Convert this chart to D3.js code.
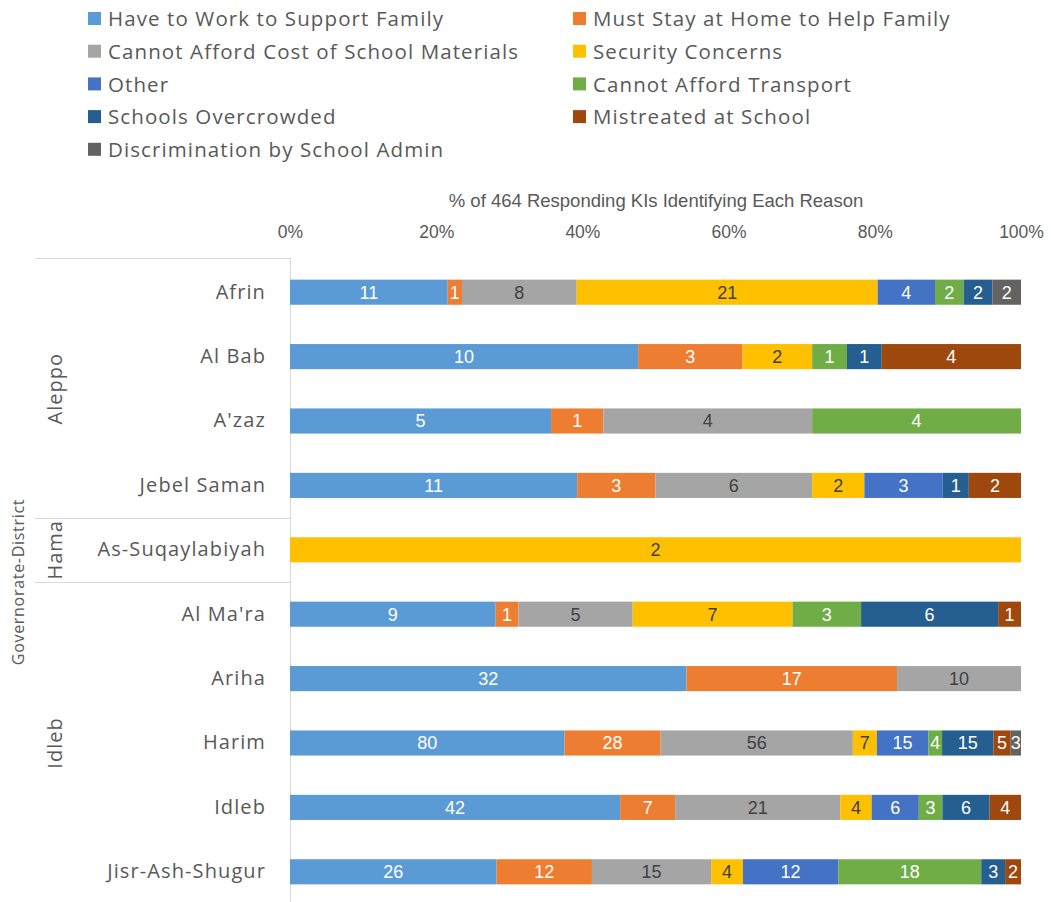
<!DOCTYPE html>
<html><head><meta charset="utf-8">
<script src="https://cdn.jsdelivr.net/npm/d3@7"></script>
<style>
html,body{margin:0;padding:0;background:#fff;}
svg{display:block;font-family:"Open Sans","Noto Sans",sans-serif;}
</style></head>
<body><svg id="c" width="1051" height="902"></svg>
<script>
const series = ["Have to Work to Support Family","Must Stay at Home to Help Family","Cannot Afford Cost of School Materials","Security Concerns","Other","Cannot Afford Transport","Schools Overcrowded","Mistreated at School","Discrimination by School Admin"];
const colors = ["#5B9BD5","#ED7D31","#A5A5A5","#FFC000","#4472C4","#70AD47","#255E91","#9E480E","#636363"];
const labelColors = ["#fff","#fff","#404040","#404040","#fff","#fff","#fff","#fff","#fff"];
const districts = ["Afrin","Al Bab","A'zaz","Jebel Saman","As-Suqaylabiyah","Al Ma'ra","Ariha","Harim","Idleb","Jisr-Ash-Shugur"];
const governorates = ["Aleppo","Aleppo","Aleppo","Aleppo","Hama","Idleb","Idleb","Idleb","Idleb","Idleb"];
// values per district, in series order
const work        = [11,10,5,11,0,9,32,80,42,26];
const home        = [1,3,1,3,0,1,17,28,7,12];
const materials   = [8,0,4,6,0,5,10,56,21,15];
const security    = [21,2,0,2,2,7,0,7,4,4];
const other       = [4,0,0,3,0,0,0,15,6,12];
const transport   = [2,1,4,0,0,3,0,4,3,18];
const overcrowded = [2,1,0,1,0,6,0,15,6,3];
const mistreated  = [0,4,0,2,0,1,0,5,4,2];
const discrim     = [2,0,0,0,0,0,0,3,0,0];
const xTicks = [0,0.2,0.4,0.6,0.8,1.0];
const axisTitle = "% of 464  Responding KIs Identifying Each Reason";
const yTitle = "Governorate-District";

const valueArrays = [work,home,materials,security,other,transport,overcrowded,mistreated,discrim];
const rows = districts.map((d,i)=>{
  const vals = valueArrays.map(a=>a[i]);
  const total = d3.sum(vals);
  let acc = 0;
  const segs = vals.map((v,k)=>{const s={k,v,x0:acc/total,x1:(acc+v)/total};acc+=v;return s;}).filter(s=>s.v>0);
  return {d,g:governorates[i],segs};
});

const svg = d3.select("#c");
const txt = "#595959";
const narrow = "'Liberation Sans Narrow','Liberation Sans',sans-serif";

// Legend
const legendItems = series.map((s,i)=>({s,i,col:i%2,row:Math.floor(i/2)}));
const lg = svg.append("g");
legendItems.forEach(it=>{
  const x = it.col===0 ? 88 : 573;
  const y = 18 + it.row*32.7;
  lg.append("rect").attr("x",x).attr("y",y-6).attr("width",13).attr("height",13).attr("fill",colors[it.i]);
  lg.append("text").attr("x",x+20).attr("y",y+1).attr("dy","0.35em").attr("fill",txt)
    .attr("font-size",20.5).attr("letter-spacing","1.1px").text(it.s);
});

const x = d3.scaleLinear().domain([0,1]).range([290,1021]);
const y = d3.scaleBand().domain(districts).range([260,904]).paddingInner(0.61).paddingOuter(0.305);

// axis title
svg.append("text").attr("x",656).attr("y",201).attr("dy","0.35em").attr("text-anchor","middle")
  .attr("fill",txt).attr("font-family",narrow).attr("font-size",18.5).text(axisTitle);

// top axis
const xa = svg.append("g").attr("transform","translate(0,240)")
  .call(d3.axisTop(x).tickValues(xTicks).tickFormat(d3.format(".0%")).tickSize(0).tickPadding(0));
xa.select(".domain").remove();
xa.selectAll("text").attr("fill",txt).attr("font-size",17.5).attr("dy","-0.1em")
  .attr("font-family",narrow);

// y axis line
svg.append("line").attr("x1",290.5).attr("x2",290.5).attr("y1",258).attr("y2",902).attr("stroke","#d9d9d9");

// group separators
const groups = d3.groups(districts.map((d,i)=>({d,g:governorates[i]})), e=>e.g);
const step = y.step();
const top0 = 258;
svg.append("line").attr("x1",35).attr("x2",290).attr("y1",top0+0.5).attr("y2",top0+0.5).attr("stroke","#d9d9d9");
groups.forEach(([g,items])=>{
  const y0 = y(items[0].d) - y.paddingInner()*step/2;
  const y1 = y(items[items.length-1].d) + y.bandwidth() + y.paddingInner()*step/2;
  const last = groups[groups.length-1][0]===g;
  if(!last) svg.append("line").attr("x1",35).attr("x2",290).attr("y1",Math.round(y1)+0.5).attr("y2",Math.round(y1)+0.5).attr("stroke","#d9d9d9");
  const cy = (y0+y1)/2;
  svg.append("text").attr("transform",`translate(55,${cy}) rotate(-90)`).attr("text-anchor","middle").attr("dy","0.35em")
    .attr("fill",txt).attr("font-size",20).attr("letter-spacing","1px").text(g);
});
svg.append("text").attr("transform",`translate(18,582) rotate(-90)`).attr("text-anchor","middle").attr("dy","0.35em")
  .attr("fill",txt).attr("font-size",16).attr("letter-spacing","0.7px").text(yTitle);

// category labels
const ya = svg.append("g").attr("transform","translate(266,0)")
  .call(d3.axisLeft(y).tickSize(0).tickPadding(0));
ya.select(".domain").remove();
ya.selectAll("text").attr("fill",txt).attr("font-size",20).attr("letter-spacing","1.1px").attr("font-family","'Open Sans',sans-serif");

// bars
const rg = svg.append("g").selectAll("g").data(rows).join("g").attr("transform",r=>`translate(0,${y(r.d)})`);
rg.selectAll("rect").data(r=>r.segs).join("rect")
  .attr("x",s=>x(s.x0)).attr("width",s=>x(s.x1)-x(s.x0)).attr("y",0).attr("height",y.bandwidth())
  .attr("fill",s=>colors[s.k]);
rg.selectAll("text").data(r=>r.segs).join("text")
  .attr("x",s=>(x(s.x0)+x(s.x1))/2).attr("y",y.bandwidth()/2).attr("dy","0.36em").attr("text-anchor","middle")
  .attr("font-family",narrow).attr("font-size",18)
  .attr("fill",s=>labelColors[s.k]).text(s=>s.v);
</script></body></html>
